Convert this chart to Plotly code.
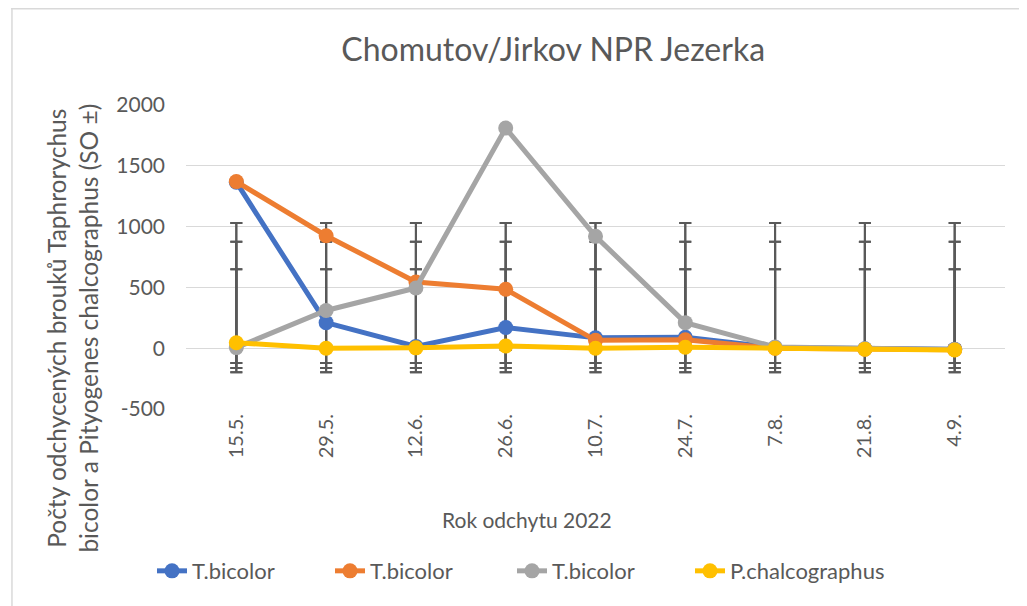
import plotly.graph_objects as go

categories = ["15.5.", "29.5.", "12.6.", "26.6.", "10.7.", "24.7.", "7.8.", "21.8.", "4.9."]
blue_vals = [1365, 210, 15, 170, 85, 90, 5, -5, -8]
orange_vals = [1370, 925, 545, 485, 65, 70, 0, -8, -12]
gray_vals = [5, 310, 495, 1810, 920, 210, 10, -5, -10]
yellow_vals = [45, 0, 3, 18, 0, 8, 0, -8, -15]
series_names = ["T.bicolor", "T.bicolor", "T.bicolor", "P.chalcographus"]
colors = ["#4472C4", "#ED7D31", "#A5A5A5", "#FFC000"]
# standard-deviation error bar ends (upper, lower)
sd_upper = [650, 875, 1029, 25]
sd_lower = [-198, -121, -162, -15]
y_ticks = [-500, 0, 500, 1000, 1500, 2000]
y_ticktext = ["-500", "0", "500", "1000", "1500", "2000"]

FONT = "Lato, 'Open Sans', sans-serif"
TXT = "#595959"

fig = go.Figure()
all_vals = [blue_vals, orange_vals, gray_vals, yellow_vals]

for up, lo in zip(sd_upper, sd_lower):
    n = len(categories)
    fig.add_trace(go.Scatter(
        x=categories, y=[lo] * n, mode="markers",
        marker=dict(size=1, opacity=0),
        error_y=dict(type="data", array=[up - lo] * n, arrayminus=[0] * n, symmetric=False,
                     color="#595959", thickness=2, width=6),
        showlegend=False, hoverinfo="skip"))
    fig.add_trace(go.Scatter(
        x=categories, y=[up] * n, mode="markers",
        marker=dict(size=1, opacity=0),
        error_y=dict(type="data", array=[0] * n, arrayminus=[up - lo] * n, symmetric=False,
                     color="#595959", thickness=2, width=6),
        showlegend=False, hoverinfo="skip"))

legend_ids = ["legend", "legend2", "legend3", "legend4"]
for vals, name, c, lg in zip(all_vals, series_names, colors, legend_ids):
    fig.add_trace(go.Scatter(
        x=categories, y=vals, mode="lines+markers", name=name, legend=lg,
        line=dict(color=c, width=5),
        marker=dict(color=c, size=15)))

# legend entry start positions (figure px of the line sample)
legend_px = [152, 330, 512, 690]
legend_layout = {}
for lg, px in zip(legend_ids, legend_px):
    legend_layout[lg] = dict(orientation="h", x=(px - 8 - 178) / 819, xanchor="left",
                             y=-0.533, yanchor="middle", bgcolor="rgba(0,0,0,0)",
                             font=dict(size=22, color=TXT, family=FONT))

fig.update_layout(
    width=1019, height=598,
    margin=dict(l=178, r=22, t=97, b=197),
    paper_bgcolor="white", plot_bgcolor="white",
    font=dict(family=FONT, color=TXT, size=16),
    title=dict(text="Chomutov/Jirkov NPR Jezerka", x=0.535, xanchor="center", xref="container",
               y=0.93, yanchor="middle", font=dict(size=32, color=TXT, family=FONT)),
    showlegend=True,
    xaxis=dict(type="category", tickangle=-90, showgrid=False, showline=False,
               ticks="", tickfont=dict(size=20, color=TXT)),
    yaxis=dict(range=[-500, 2000], tickvals=y_ticks, ticktext=y_ticktext,
               showgrid=True, gridcolor="#D9D9D9", gridwidth=1.3, zeroline=False,
               showline=False, ticks="", tickfont=dict(size=21, color=TXT),
               ticklabelstandoff=20),
    annotations=[
        dict(text="Rok odchytu 2022", xref="paper", yref="paper", x=0.416, y=-0.362,
             xanchor="center", yanchor="middle", showarrow=False,
             font=dict(size=21, color=TXT, family=FONT)),
        dict(text="Počty odchycených brouků Taphrorychus<br>bicolor a Pityogenes chalcographus (SO ±)",
             xref="paper", yref="paper", x=-0.1386, y=0.266, textangle=-90,
             xanchor="center", yanchor="middle", showarrow=False,
             font=dict(size=24.5, color=TXT, family=FONT)),
    ],
    **legend_layout,
)

# chart area border (top and left visible)
fig.add_shape(type="line", xref="paper", yref="paper", x0=-0.2137, x1=1.1, y0=1.317, y1=1.317,
              line=dict(color="#D9D9D9", width=1.5))
fig.add_shape(type="line", xref="paper", yref="paper", x0=-0.2125, x1=-0.2125, y0=1.317, y1=-0.75,
              line=dict(color="#D9D9D9", width=1.5))

fig.write_html("out.html")
